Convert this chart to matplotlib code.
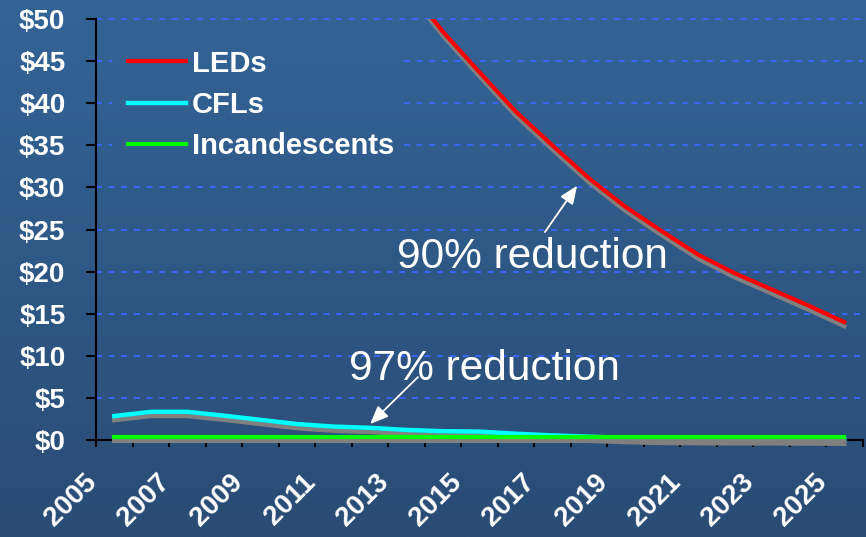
import numpy as np
import matplotlib.pyplot as plt
import matplotlib.patheffects as pe
from matplotlib.lines import Line2D
from matplotlib.transforms import ScaledTranslation

plt.rcParams['font.family'] = ['Liberation Sans', 'DejaVu Sans']

nan = np.nan
years = list(range(2005, 2026))
leds = [nan] * 8 + [54.0, 48.5, 43.7, 39.0, 35.0, 31.1, 27.7, 24.8, 22.0, 19.8, 17.9, 16.0, 14.0]
cfls = [2.85, 3.35, 3.35, 2.9, 2.4, 1.9, 1.6, 1.45, 1.2, 1.05, 1.0, 0.75, 0.55,
        0.4, 0.25, 0.15, 0.12, 0.1, 0.1, 0.08, 0.05]
incandescents = [0.4] * 21
series_names = ['LEDs', 'CFLs', 'Incandescents']
series_colors = ['#ff0000', '#00ffff', '#00ff00']
y_ticks = list(range(0, 55, 5))
label_years = years[::2]

fig = plt.figure(figsize=(8.66, 5.37), dpi=100)

# vertical blue gradient behind everything
top = np.array([51, 100, 150]) / 255
bottom = np.array([42, 76, 117]) / 255
t = np.linspace(0, 1, 256)[:, None]
grad = top + (bottom - top) * t
bg = fig.add_axes([0, 0, 1, 1], zorder=0)
bg.imshow(grad[:, None, :], aspect='auto', extent=[0, 1, 0, 1])
bg.axis('off')

ax = fig.add_axes([0.1109, 0.1806, 0.8851, 0.7840], zorder=1)
ax.patch.set_alpha(0)
x = np.arange(len(years))
ax.set_xlim(-0.5, len(years) - 0.5)
ax.set_ylim(0, 50)

# dashed gridlines; the ones behind the legend leave a gap for it
grid = dict(color='#3a66ff', lw=1.4, ls=(0, (3, 3.5)), zorder=1, clip_on=False)
for y in y_ticks[1:]:
    if y in (35, 40, 45):
        ax.hlines(y, -0.5, -0.05, **grid)
        ax.hlines(y, 7.95, 20.5, **grid)
    else:
        ax.hlines(y, -0.5, 20.5, **grid)

shadow = [pe.SimpleLineShadow(offset=(0, -3), shadow_color='#808080', alpha=1), pe.Normal()]
widths = [3.0, 3.2, 3.0]
for vals, c, w in zip([leds, cfls, incandescents], series_colors, widths):
    ax.plot(x, vals, color=c, lw=w, zorder=3, path_effects=shadow,
            clip_on=(vals is leds))

for s in ['top', 'right']:
    ax.spines[s].set_visible(False)
for s in ['left', 'bottom']:
    ax.spines[s].set_color('black')
    ax.spines[s].set_linewidth(1.5)

ax.set_yticks(y_ticks)
ax.set_yticklabels(['\\$%d' % v for v in y_ticks], fontsize=20, fontweight='bold', color='white')
ax.tick_params(axis='y', direction='out', length=7, width=1.5, color='black', pad=15)

ax.set_xticks([years.index(y) for y in label_years])
ax.set_xticklabels([str(y) for y in label_years], fontsize=20, fontweight='bold', color='white',
                   rotation=45, ha='right', va='top')
ax.set_xticks(np.arange(-0.5, len(years), 1), minor=True)
ax.tick_params(axis='x', which='major', length=0, pad=21)
ax.tick_params(axis='x', which='minor', direction='out', length=5, width=1.5, color='black')
shift = ScaledTranslation(-0.12, 0, fig.dpi_scale_trans)
for lab in ax.get_xticklabels():
    lab.set_transform(lab.get_transform() + shift)

ax.text(11.45, 20.4, '90% reduction', ha='center', va='baseline', color='white', fontsize=30.5, zorder=5)
ax.text(10.13, 7.1, '97% reduction', ha='center', va='baseline', color='white', fontsize=30.5, zorder=5)
arrow = dict(arrowstyle='-|>,head_length=0.55,head_width=0.23', color='white', lw=1.3,
             mutation_scale=20, shrinkA=0, shrinkB=0)
ax.annotate('', xy=(12.68, 30.2), xytext=(11.8, 24.7), arrowprops=arrow, zorder=5)
ax.annotate('', xy=(7.01, 1.9), xytext=(8.32, 7.48), arrowprops=arrow, zorder=5)

handles = [Line2D([], [], color=c, lw=w) for c, w in zip(series_colors, widths)]
leg = ax.legend(handles, series_names, loc='upper left', bbox_to_anchor=(0.03, 0.948),
                frameon=False, prop={'weight': 'bold', 'size': 21}, labelcolor='white',
                handlelength=2.0, handletextpad=0.2, labelspacing=0.45,
                borderpad=0.3, borderaxespad=0)
leg.set_zorder(6)

fig.savefig('out.png', dpi=100)
